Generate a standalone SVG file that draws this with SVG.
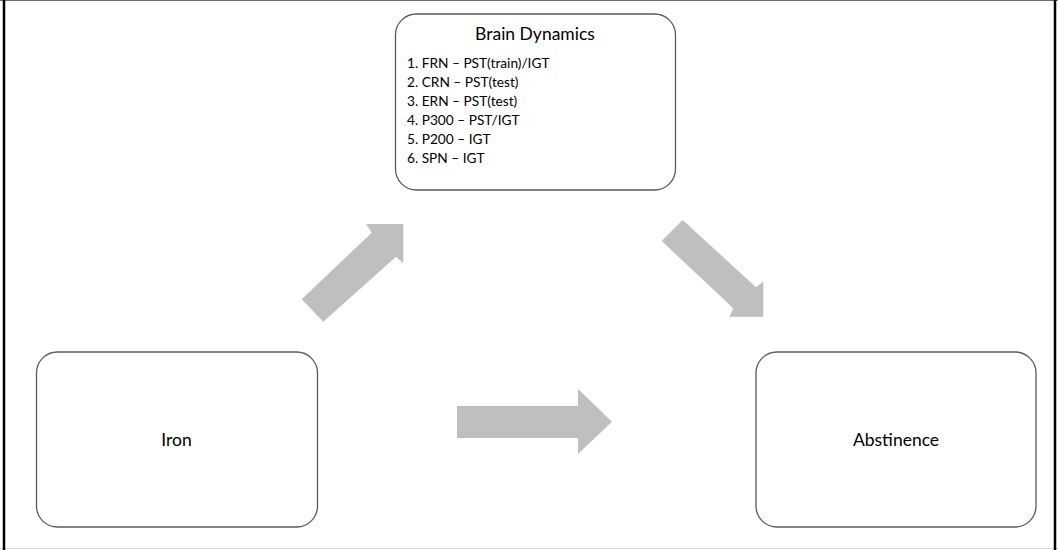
<svg xmlns="http://www.w3.org/2000/svg" width="1058" height="550" viewBox="0 0 1058 550">
  <style>
    .node { fill: #ffffff; stroke: #5a5a5a; stroke-width: 1.3; }
    .label { font-family: Lato, "Open Sans", "Liberation Sans", sans-serif; fill: #000000; }
    .title { font-size: 17.5px; text-anchor: middle; }
    .item { font-size: 13.7px; }
    .arrow { fill: #bfbfbf; stroke: none; }
  </style>

  <!-- page background and frame -->
  <rect x="0" y="0" width="1058" height="550" fill="#ffffff"/>
  <line x1="0" y1="0.5" x2="1058" y2="0.5" stroke="#6e6e6e" stroke-width="1"/>
  <line x1="0" y1="548.5" x2="1058" y2="548.5" stroke="#d9d9d9" stroke-width="1"/>
  <line x1="4" y1="0" x2="4" y2="550" stroke="#000000" stroke-width="2.5"/>
  <line x1="1055" y1="0" x2="1055" y2="550" stroke="#000000" stroke-width="2.5"/>

  <!-- block arrows -->
  <g id="connectors">
    <polygon class="arrow" points="301.7,299.3 371.7,232.7 366,224 403.3,224 403.3,263.3 396,256.7 323.3,321.7"/>
    <polygon class="arrow" points="682.7,220 756,287.3 763.3,281.7 763.3,316.7 729.3,316.7 733.3,308.3 661.7,241"/>
    <polygon class="arrow" points="457,406 578,406 578,389 612,421.7 578,454 578,438 457,438"/>
  </g>

  <g id="brain-dynamics">
    <rect class="node" x="395.5" y="14" width="280" height="176" rx="21" ry="21"/>
    <text class="label title" x="535" y="40">Brain Dynamics</text>
    <text class="label item" x="407" y="68">1. FRN – PST(train)/IGT</text>
    <text class="label item" x="407" y="87">2. CRN – PST(test)</text>
    <text class="label item" x="407" y="106">3. ERN – PST(test)</text>
    <text class="label item" x="407" y="125">4. P300 – PST/IGT</text>
    <text class="label item" x="407" y="144">5. P200 – IGT</text>
    <text class="label item" x="407" y="163">6. SPN – IGT</text>
  </g>

  <g id="iron">
    <rect class="node" x="36.5" y="352" width="281" height="175" rx="21" ry="21"/>
    <text class="label title" x="176.5" y="446">Iron</text>
  </g>

  <g id="abstinence">
    <rect class="node" x="756" y="352" width="280" height="175" rx="21" ry="21"/>
    <text class="label title" x="896" y="446">Abstinence</text>
  </g>
</svg>
